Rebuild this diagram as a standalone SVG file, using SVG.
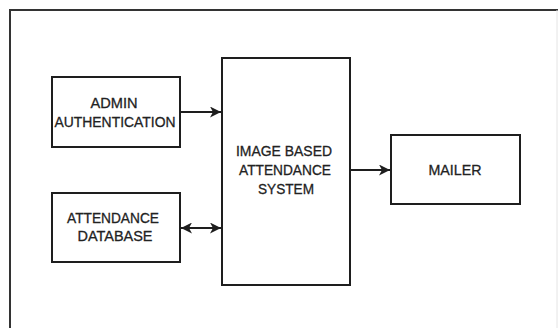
<svg xmlns="http://www.w3.org/2000/svg" width="558" height="328" viewBox="0 0 558 328">
<defs>
<style>
.box{fill:#fff;stroke:#1e1e1e;stroke-width:2}
.lbl{font-family:"Liberation Sans",Arial,sans-serif;font-size:15px;fill:#222;stroke:#222;stroke-width:0.3;text-anchor:middle}
.con{stroke:#1e1e1e;stroke-width:2;fill:none}
</style>
<marker id="ah" viewBox="0 0 11 11" refX="11" refY="5.5" markerWidth="11" markerHeight="11" markerUnits="userSpaceOnUse" orient="auto-start-reverse">
<path d="M0,0 L11,5.5 L0,11 L3,5.5 Z" fill="#1e1e1e"/>
</marker>
</defs>
<rect width="558" height="328" fill="#fff"/>
<g id="frame">
<path d="M10,330 V10 H558" fill="none" stroke="#333" stroke-width="2"/>
<line x1="557" y1="10" x2="557" y2="328" stroke="#e4e4e4" stroke-width="1"/>
</g>
<g id="admin">
<rect class="box" x="52" y="77" width="128" height="70"/>
<text class="lbl" x="114" y="108" textLength="47" lengthAdjust="spacingAndGlyphs">ADMIN</text>
<text class="lbl" x="115" y="127" textLength="121" lengthAdjust="spacingAndGlyphs">AUTHENTICATION</text>
</g>
<g id="database">
<rect class="box" x="52" y="193" width="128" height="69"/>
<text class="lbl" x="113" y="223" textLength="92" lengthAdjust="spacingAndGlyphs">ATTENDANCE</text>
<text class="lbl" x="115" y="241" textLength="75" lengthAdjust="spacingAndGlyphs">DATABASE</text>
</g>
<g id="system">
<rect class="box" x="222" y="58" width="128" height="227"/>
<text class="lbl" x="284" y="156" textLength="96" lengthAdjust="spacingAndGlyphs">IMAGE BASED</text>
<text class="lbl" x="285" y="175" textLength="92" lengthAdjust="spacingAndGlyphs">ATTENDANCE</text>
<text class="lbl" x="286" y="194" textLength="56" lengthAdjust="spacingAndGlyphs">SYSTEM</text>
</g>
<g id="mailer">
<rect class="box" x="391" y="135" width="129" height="69"/>
<text class="lbl" x="455" y="175" textLength="53" lengthAdjust="spacingAndGlyphs">MAILER</text>
</g>
<g id="connectors">
<line class="con" x1="180" y1="112" x2="221" y2="112" marker-end="url(#ah)"/>
<line class="con" x1="181" y1="228" x2="221" y2="228" marker-start="url(#ah)" marker-end="url(#ah)"/>
<line class="con" x1="350" y1="170" x2="390" y2="170" marker-end="url(#ah)"/>
</g>
</svg>
